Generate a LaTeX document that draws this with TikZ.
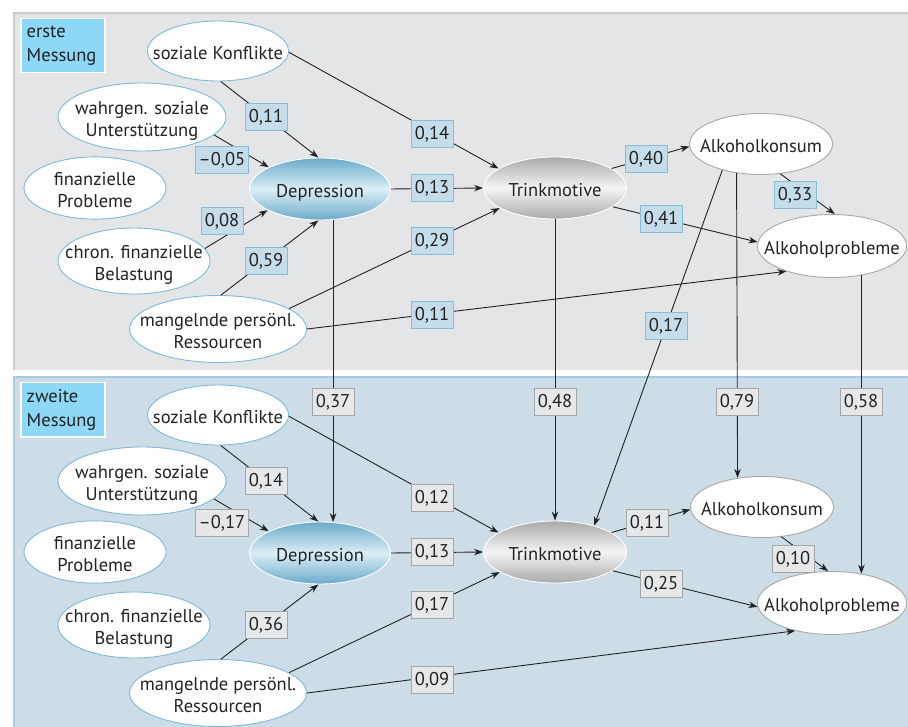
\documentclass[tikz,border=0pt]{standalone}
\usepackage{fontspec}
\setmainfont{PT Sans}
\usetikzlibrary{shapes.geometric,arrows.meta}

\definecolor{panelgray}{HTML}{E4E5E7}
\definecolor{panelline}{HTML}{C9CACC}
\definecolor{panelblue}{HTML}{CCDDE8}
\definecolor{blueline}{HTML}{A6CBE0}
\definecolor{tagcyan}{HTML}{8DD7F7}
\definecolor{varline}{HTML}{7DBAD8}
\definecolor{outline}{HTML}{A8A8A8}
\definecolor{coefafill}{HTML}{C5DCEA}
\definecolor{coefaline}{HTML}{86BDD8}
\definecolor{coefbfill}{HTML}{E6E7E8}
\definecolor{coefbline}{HTML}{A5A5A5}
\definecolor{depdark}{HTML}{6AAACA}
\definecolor{deplight}{HTML}{DCEEF5}
\definecolor{tmdark}{HTML}{A9A9A9}
\definecolor{tmlight}{HTML}{F5F5F5}
\definecolor{ink}{HTML}{222222}

% Text ohne Breite, damit die Ellipse nur von minimum width/height abhaengt
\newcommand\ovtext[1]{\raisebox{-4.5pt}[\height][\depth]{\makebox[0pt]{\begin{tabular}{@{}c@{}}#1\end{tabular}}}}

\begin{document}
\begin{tikzpicture}[
    x=1pt, y=-1pt,
    >={Stealth[length=9pt,width=6.5pt]},
    every node/.style={font=\fontsize{18.5}{22}\selectfont, text=ink},
    var/.style={ellipse, draw=varline, fill=white, line width=0.9pt, inner sep=0pt},
    outvar/.style={var, draw=outline},
    depvar/.style={ellipse, draw=white, line width=0.9pt, inner sep=0pt,
      top color=depdark, bottom color=depdark, middle color=deplight},
    motvar/.style={ellipse, draw=white, line width=0.9pt, inner sep=0pt,
      top color=tmdark, bottom color=tmdark, middle color=tmlight},
    coefa/.style={draw=coefaline, fill=coefafill, line width=0.9pt, inner xsep=3.5pt,
      inner ysep=0pt, minimum height=27, minimum width=42},
    coefb/.style={coefa, draw=coefbline, fill=coefbfill},
    tagbox/.style={fill=tagcyan, draw=white, line width=1.5pt, anchor=north west,
      font=\fontsize{18.5}{24}\selectfont,
      minimum height=54, text width=72, inner xsep=6pt, align=left},
    path/.style={->, line width=0.9pt, ink}
  ]
  \useasboundingbox (0,0) rectangle (908,727);

  % --- 1. Hintergrund der beiden Messungen ---
  \fill[panelgray] (14,13) rectangle (908,370);
  \draw[panelline, line width=1.5pt] (908,13) -- (14,13) -- (14,370);
  \fill[panelblue] (14,377) rectangle (908,727);
  \draw[blueline, line width=1.5pt] (908,377) -- (14,377) -- (14,727);

  \node[tagbox] (tag1) at (20,18) {erste\\Messung};
  \node[tagbox] (tag2) at (20,382) {zweite\\Messung};

  % --- 2. Variablen, erste Messung ---
  \node[var, minimum width=141, minimum height=60] (sk1) at (218,51) {\ovtext{soziale Konflikte}};
  \node[var, minimum width=168, minimum height=68] (ws1) at (142,117) {\ovtext{wahrgen. soziale\\Unterstützung}};
  \node[var, minimum width=142, minimum height=61] (fp1) at (95,188) {\ovtext{finanzielle\\Probleme}};
  \node[var, minimum width=152, minimum height=66] (cf1) at (134,261) {\ovtext{chron. finanzielle\\Belastung}};
  \node[var, minimum width=177, minimum height=67] (mp1) at (218,329) {\ovtext{mangelnde persönl.\\Ressourcen}};
  \node[depvar, minimum width=141, minimum height=62] (dep1) at (320,189) {\ovtext{Depression}};
  \node[motvar, minimum width=143, minimum height=62] (tm1) at (555,188) {\ovtext{Trinkmotive}};
  \node[outvar, minimum width=143, minimum height=61] (ak1) at (761,144) {\ovtext{Alkoholkonsum}};
  \node[outvar, minimum width=149, minimum height=63] (ap1) at (832,246) {\ovtext{Alkoholprobleme}};

  % --- 3. Variablen, zweite Messung ---
  \node[var, minimum width=141, minimum height=60] (sk2) at (218,415) {\ovtext{soziale Konflikte}};
  \node[var, minimum width=168, minimum height=68] (ws2) at (142,481) {\ovtext{wahrgen. soziale\\Unterstützung}};
  \node[var, minimum width=142, minimum height=61] (fp2) at (95,552) {\ovtext{finanzielle\\Probleme}};
  \node[var, minimum width=152, minimum height=66] (cf2) at (134,625) {\ovtext{chron. finanzielle\\Belastung}};
  \node[var, minimum width=177, minimum height=67] (mp2) at (218,693) {\ovtext{mangelnde persönl.\\Ressourcen}};
  \node[depvar, minimum width=141, minimum height=62] (dep2) at (320,553) {\ovtext{Depression}};
  \node[motvar, minimum width=143, minimum height=62] (tm2) at (555,552) {\ovtext{Trinkmotive}};
  \node[outvar, minimum width=143, minimum height=61] (ak2) at (762,507) {\ovtext{Alkoholkonsum}};
  \node[outvar, minimum width=149, minimum height=63] (ap2) at (832,603) {\ovtext{Alkoholprobleme}};

  % --- 4. Pfade, erste Messung ---
  \draw[path] (sk1.275) -- (dep1.93);
  \draw[path] (ws1.346) -- (dep1.157);
  \draw[path] (cf1.10) -- (dep1.202);
  \draw[path] (mp1.85) -- (dep1.267);
  \draw[path] (sk1.359) -- (tm1.161);
  \draw[path] (dep1.east) -- (tm1.west);
  \draw[path] (mp1.16) -- (tm1.200);
  \draw[path] (mp1.east) -- (ap1.209);
  \draw[path] (tm1.19) -- (ak1.182);
  \draw[path] (tm1.342) -- (ap1.177);
  \draw[path] (ak1.303) -- (ap1.85);

  % --- 5. Pfade zwischen den Messungen ---
  \draw[path] (ak1.214) -- (tm2.34);
  \draw[path] (dep1.293) -- (dep2.67);
  \draw[path] (tm1.south) -- (tm2.north);
  \draw[path] (ak1.230) -- (ak2.130);
  \draw[path] (ap1.315) -- (ap2.45);

  % --- 6. Pfade, zweite Messung ---
  \draw[path] (sk2.275) -- (dep2.93);
  \draw[path] (ws2.346) -- (dep2.157);
  \draw[path] (mp2.85) -- (dep2.267);
  \draw[path] (sk2.359) -- (tm2.161);
  \draw[path] (dep2.east) -- (tm2.west);
  \draw[path] (mp2.16) -- (tm2.200);
  \draw[path] (mp2.east) -- (ap2.217);
  \draw[path] (tm2.19) -- (ak2.182);
  \draw[path] (tm2.342) -- (ap2.183);
  \draw[path] (ak2.303) -- (ap2.97);

  % --- 7. Koeffizienten ---
  \node[coefa] (a1) at (266,117) {0,11};
  \node[coefa] (a2) at (222,160) {–0,05};
  \node[coefa] (a3) at (222,221) {0,08};
  \node[coefa] (a4) at (266,261) {0,59};
  \node[coefa] (a5) at (432,134) {0,14};
  \node[coefa] (a6) at (432,188) {0,13};
  \node[coefa] (a7) at (432,241) {0,29};
  \node[coefa] (a8) at (432,315) {0,11};
  \node[coefa] (a9) at (646,159) {0,40};
  \node[coefa] (a10) at (661,219) {0,41};
  \node[coefa] (a11) at (795,195) {0,33};
  \node[coefa] (a12) at (666,326) {0,17};

  \node[coefb] (x1) at (333,402) {0,37};
  \node[coefb] (x2) at (555,402) {0,48};
  \node[coefb] (x3) at (737,402) {0,79};
  \node[coefb] (x4) at (861,402) {0,58};

  \node[coefb] (b1) at (266,481) {0,14};
  \node[coefb] (b2) at (222,523) {–0,17};
  \node[coefb] (b3) at (266,625) {0,36};
  \node[coefb] (b4) at (432,498) {0,12};
  \node[coefb] (b5) at (432,552) {0,13};
  \node[coefb] (b6) at (432,605) {0,17};
  \node[coefb] (b7) at (432,680) {0,09};
  \node[coefb] (b8) at (647,523) {0,11};
  \node[coefb] (b9) at (661,584) {0,25};
  \node[coefb] (b10) at (793,559) {0,10};

\end{tikzpicture}
\end{document}
